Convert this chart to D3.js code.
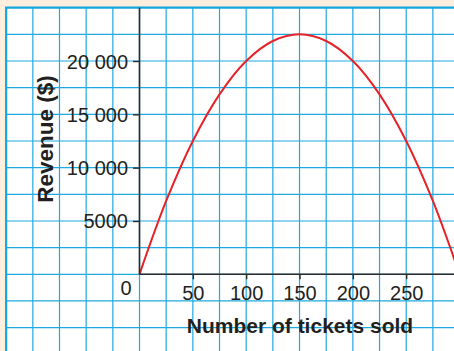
<!DOCTYPE html>
<html>
<head>
<meta charset="utf-8">
<script src="https://cdn.jsdelivr.net/npm/d3@7"></script>
<style>
html,body{margin:0;padding:0;background:#fcefdd;}
svg{display:block;}
text{font-family:"Liberation Sans",Arial,Helvetica,sans-serif;fill:#231f20;}
</style>
</head>
<body>
<svg id="chart" width="454" height="351"></svg>
<script>
// Data
const tickets = [0, 25, 50, 75, 100, 125, 150, 175, 200, 225, 250, 275, 300];
const revenue = [0, 6875, 12500, 16875, 20000, 21875, 22500, 21875, 20000, 16875, 12500, 6875, 0];
const xTickValues = [50, 100, 150, 200, 250];
const xTickLabels = ["50", "100", "150", "200", "250"];
const yTickValues = [5000, 10000, 15000, 20000];
const yTickLabels = ["5000", "10 000", "15 000", "20 000"];
const xTitle = "Number of tickets sold";
const yTitle = "Revenue ($)";

const W = 454, H = 351;
const svg = d3.select("#chart");

const x = d3.scaleLinear().domain([0, 250]).range([139.5, 406.2]);
const y = d3.scaleLinear().domain([0, 20000]).range([274.3, 61]);

const gridLeft = x(-125), gridTop = y(25000);

// paper
svg.append("rect").attr("x", gridLeft).attr("y", gridTop)
  .attr("width", W - gridLeft).attr("height", H - gridTop).attr("fill", "#ffffff");

// grid
const gx = d3.range(-100, 301, 25);
const gy = d3.range(-7500, 25000, 2500);
const grid = svg.append("g").attr("stroke", "#1fa9e1").attr("stroke-width", 1.2);
grid.selectAll("line.v").data(gx).join("line")
  .attr("x1", d => x(d)).attr("x2", d => x(d))
  .attr("y1", gridTop).attr("y2", H);
grid.selectAll("line.h").data(gy).join("line")
  .attr("y1", d => y(d)).attr("y2", d => y(d))
  .attr("x1", gridLeft).attr("x2", W);
// border
svg.append("path")
  .attr("d", `M${gridLeft},${H}V${gridTop}H${W}`)
  .attr("fill", "none").attr("stroke", "#12a6e2").attr("stroke-width", 2.2);

// curve
const clip = svg.append("clipPath").attr("id", "clip").append("rect")
  .attr("x", gridLeft).attr("y", gridTop).attr("width", W - gridLeft).attr("height", H - gridTop);
const pts = tickets.map((t, i) => [t, revenue[i]]);
svg.append("path")
  .datum(pts)
  .attr("clip-path", "url(#clip)")
  .attr("fill", "none")
  .attr("stroke", "#e52329")
  .attr("stroke-width", 2)
  .attr("d", d3.line().x(d => x(d[0])).y(d => y(d[1])).curve(d3.curveCatmullRom));

// axes
const axisColor = "#2b2b2b";
svg.append("line").attr("x1", x(0)).attr("x2", x(0)).attr("y1", gridTop).attr("y2", y(0))
  .attr("stroke", axisColor).attr("stroke-width", 1.6);
svg.append("line").attr("x1", x(0)).attr("x2", W).attr("y1", y(0)).attr("y2", y(0))
  .attr("stroke", axisColor).attr("stroke-width", 1.6);

const yAxis = d3.axisLeft(y).tickValues(yTickValues)
  .tickFormat((d, i) => yTickLabels[i]).tickSize(6.5).tickPadding(5);
const ya = svg.append("g").attr("transform", `translate(${x(0)},0)`).call(yAxis);
ya.select(".domain").remove();
ya.selectAll(".tick line").attr("stroke", axisColor).attr("stroke-width", 1.4);
ya.selectAll(".tick text").attr("font-size", 20).attr("fill", "#231f20")
  .attr("font-family", "Liberation Sans, Arial, sans-serif").attr("dy", "0.35em");

const xAxis = d3.axisBottom(x).tickValues(xTickValues)
  .tickFormat((d, i) => xTickLabels[i]).tickSize(5).tickPadding(7);
const xa = svg.append("g").attr("transform", `translate(0,${y(0)})`).call(xAxis);
xa.select(".domain").remove();
xa.selectAll(".tick line").attr("stroke", axisColor).attr("stroke-width", 1.4);
xa.selectAll(".tick text").attr("font-size", 20).attr("fill", "#231f20")
  .attr("font-family", "Liberation Sans, Arial, sans-serif");

// origin label
svg.append("text").attr("x", 126).attr("y", 294.5).attr("text-anchor", "middle")
  .attr("font-size", 20).text("0");

// titles
svg.append("text").attr("x", 300).attr("y", 332.5).attr("text-anchor", "middle")
  .attr("font-size", 21).attr("font-weight", "bold").text(xTitle);
svg.append("text").attr("transform", "translate(52.5,139) rotate(-90)")
  .attr("text-anchor", "middle").attr("font-size", 22.5).attr("font-weight", "bold").text(yTitle);
</script>
</body>
</html>
